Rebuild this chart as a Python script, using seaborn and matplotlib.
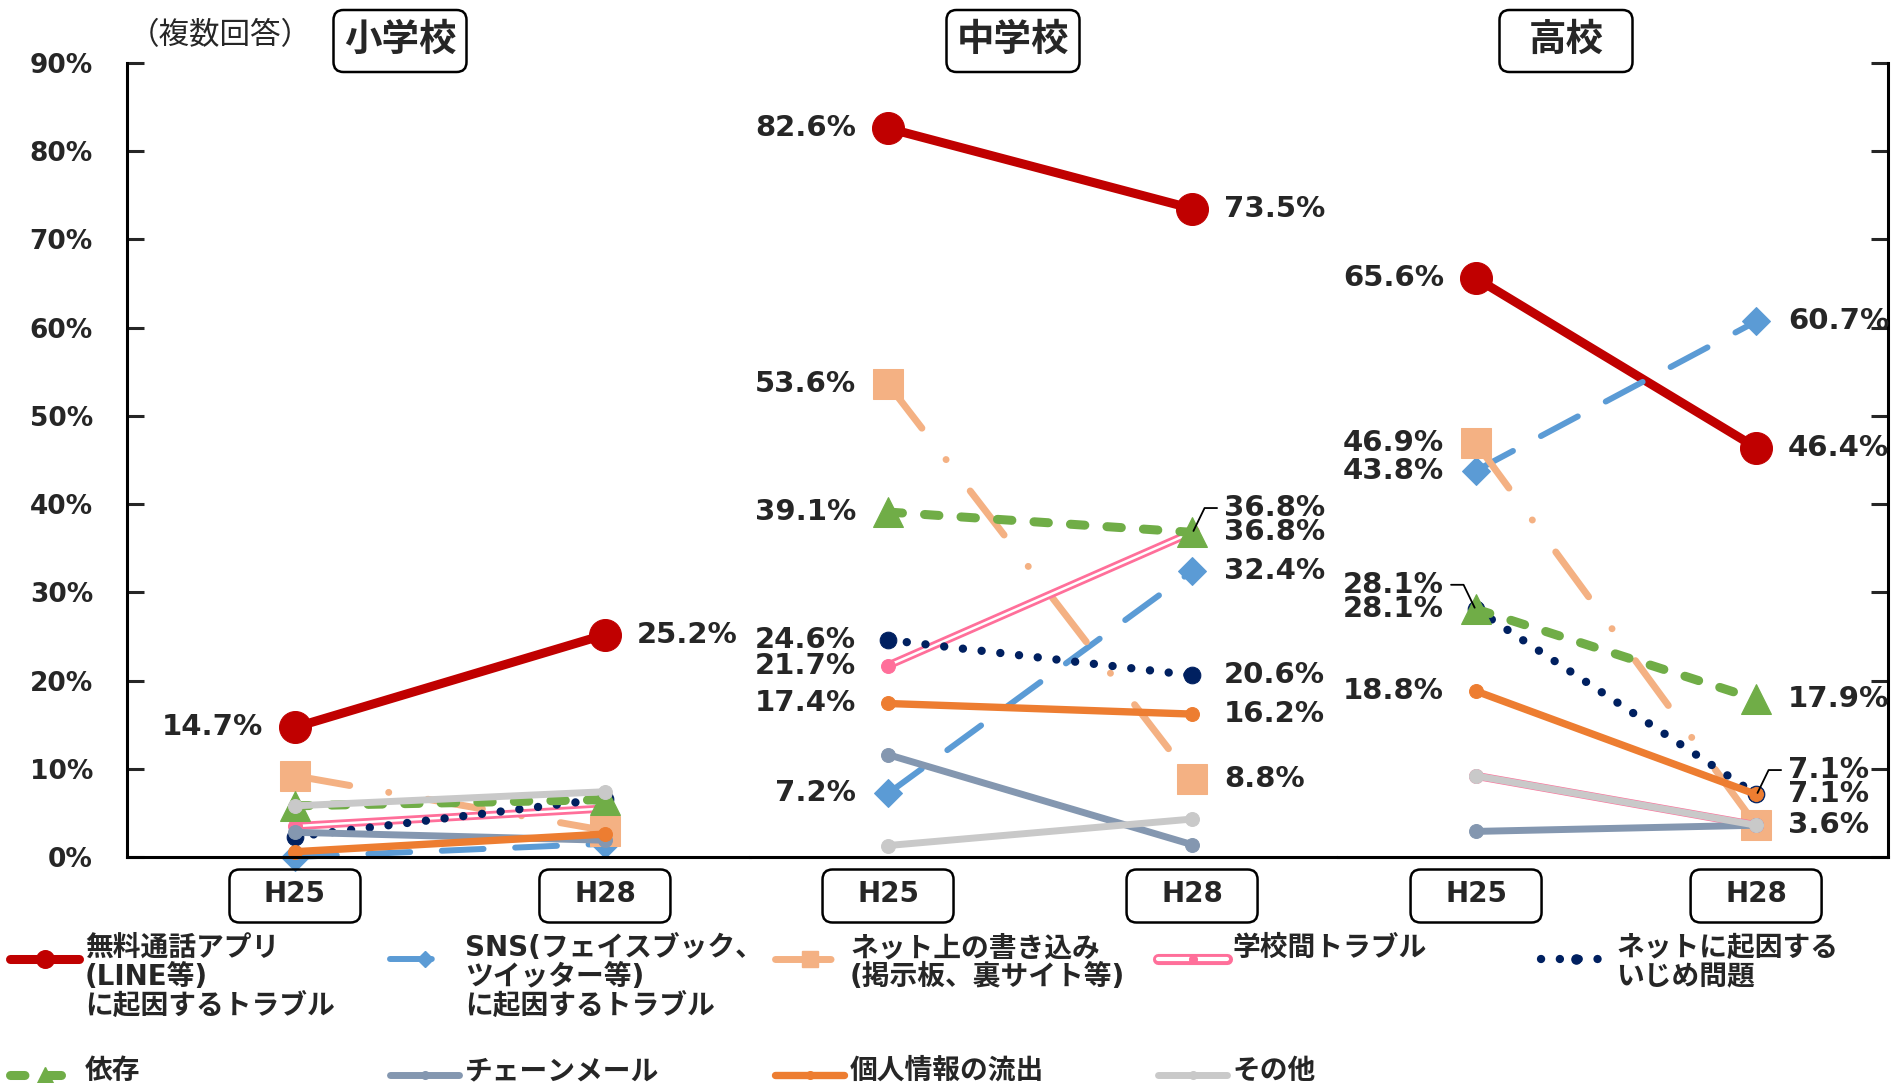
import matplotlib
matplotlib.use("Agg")
import matplotlib.pyplot as plt
import matplotlib.patheffects as pe
import matplotlib.transforms as mtransforms
from matplotlib.lines import Line2D
from matplotlib.patches import FancyBboxPatch
import pandas as pd
import seaborn as sns

# ---- data ----
schools = ["小学校", "中学校", "高校"]
years = ["H25", "H28"]
categories = [
    "無料通話アプリ\n(LINE等)\nに起因するトラブル",
    "SNS(フェイスブック、\nツイッター等)\nに起因するトラブル",
    "ネット上の書き込み\n(掲示板、裏サイト等)",
    "学校間トラブル",
    "ネットに起因する\nいじめ問題",
    "依存",
    "チェーンメール",
    "個人情報の流出",
    "その他",
]
elem_h25 = [14.7, 0.0, 9.2, 3.5, 2.3, 5.8, 2.8, 0.6, 5.8]
elem_h28 = [25.2, 1.5, 3.0, 5.5, 6.6, 6.5, 1.9, 2.6, 7.4]
mid_h25 = [82.6, 7.2, 53.6, 21.7, 24.6, 39.1, 11.6, 17.4, 1.3]
mid_h28 = [73.5, 32.4, 8.8, 36.8, 20.6, 36.8, 1.4, 16.2, 4.3]
high_h25 = [65.6, 43.8, 46.9, 9.2, 28.1, 28.1, 2.9, 18.8, 9.2]
high_h28 = [46.4, 60.7, 3.6, 3.6, 7.1, 17.9, 3.6, 7.1, 3.6]
y_ticks = list(range(0, 91, 10))

# (year index, category index) of the printed values
value_labels = {
    "小学校": [(0, 0), (1, 0)],
    "中学校": [(0, 0), (0, 2), (0, 5), (0, 4), (0, 3), (0, 7), (0, 1),
              (1, 0), (1, 5), (1, 1), (1, 4), (1, 7), (1, 2)],
    "高校": [(0, 0), (0, 2), (0, 1), (0, 5), (0, 7),
            (1, 1), (1, 0), (1, 5), (1, 7), (1, 2)],
}
# duplicated values: printed one line higher with a leader line
leader_labels = {"小学校": [], "中学校": [(1, 3)], "高校": [(0, 4), (1, 4)]}

rows = []
for school, h25, h28 in zip(schools, [elem_h25, mid_h25, high_h25],
                            [elem_h28, mid_h28, high_h28]):
    for cat, a, b in zip(categories, h25, h28):
        rows.append((school, cat, years[0], a))
        rows.append((school, cat, years[1], b))
df = pd.DataFrame(rows, columns=["school", "cat", "year", "value"])

# ---- styles ----
PINK = "#FF6F9A"
styles = [
    dict(color="#C00000", lw=6.5, ls="-", marker="o", ms=23),
    dict(color="#5B9BD5", lw=4.3, ls=(0, (7, 5.3)), marker="D", ms=14),
    dict(color="#F4B183", lw=5, ls=(0, (8, 5.7, 0.01, 5.7)), marker="s", ms=21),
    dict(color=PINK, lw=1.8, ls="-", marker="o", ms=10),
    dict(color="#002060", lw=6, ls=(0, (0.01, 2.25)), marker="o", ms=12),
    dict(color="#70AD47", lw=6.5, ls=(0, (1.6, 2.45)), marker="^", ms=22),
    dict(color="#8497B0", lw=5, ls="-", marker="o", ms=10),
    dict(color="#ED7D31", lw=5.3, ls="-", marker="o", ms=10),
    dict(color="#C9C9C9", lw=5, ls="-", marker="o", ms=10),
]

sns.set_style("white")
plt.rcParams["font.family"] = ["DejaVu Sans", "Noto Sans CJK JP"]

W, H = 1898, 1083
fig = plt.figure(figsize=(W / 100, H / 100), dpi=100)

panel_px = [(127, 750), (750, 1338), (1338, 1888)]
xlims = [(-0.542, 1.468), (-0.454, 1.48), (-0.493, 1.471)]
y_top, y_bot = 63, 857
title_px = [400, 1013, 1566]

axes = []
for (l, r) in panel_px:
    axes.append(fig.add_axes([l / W, 1 - y_bot / H, (r - l) / W, (y_bot - y_top) / H]))


def offset_trans(ax, x, y):
    return fig.dpi_scale_trans + mtransforms.ScaledTranslation(x, y, ax.transData)


for p, (ax, school) in enumerate(zip(axes, schools)):
    d = df[df.school == school]
    for k, cat in enumerate(categories):
        sub = d[d.cat == cat]
        st = styles[k]
        if k == 3:
            sns.lineplot(data=sub, x="year", y="value", ax=ax, color="white",
                         lw=1.8, legend=False, clip_on=False,
                         path_effects=[pe.Stroke(linewidth=5.8, foreground=PINK), pe.Normal()])
            sns.lineplot(data=sub, x="year", y="value", ax=ax, color=PINK,
                         linestyle="none", marker="o", ms=st["ms"], mec=PINK,
                         legend=False, clip_on=False)
        else:
            sns.lineplot(data=sub, x="year", y="value", ax=ax, color=st["color"],
                         lw=st["lw"], linestyle=st["ls"], marker=st["marker"],
                         ms=st["ms"], mec=st["color"], dash_capstyle="round",
                         solid_capstyle="round", legend=False, clip_on=False)

    vals = [d[d.year == y].set_index("cat").loc[categories, "value"].tolist() for y in years]
    for yi, k in value_labels[school]:
        side = -1 if yi == 0 else 1
        ax.annotate(f"{vals[yi][k]:.1f}%", xy=(yi, vals[yi][k]),
                    xytext=(23 * side, 0), textcoords="offset points",
                    ha="right" if side < 0 else "left", va="center",
                    fontsize=21, fontweight="bold")
    for yi, k in leader_labels[school]:
        side = -1 if yi == 0 else 1
        v = vals[yi][k]
        ax.annotate(f"{v:.1f}%", xy=(yi, v), xytext=(23 * side, 17.5),
                    textcoords="offset points",
                    ha="right" if side < 0 else "left", va="center",
                    fontsize=21, fontweight="bold")
        xs = [side * 18 / 72, side * 9 / 72, side * 1 / 72]
        ys = [17.5 / 72, 17.5 / 72, 1 / 72]
        ax.add_line(Line2D(xs, ys, transform=offset_trans(ax, yi, v),
                           color="black", lw=1.3, clip_on=False))

    ax.set_xlim(*xlims[p])
    ax.set_ylim(0, 90)
    ax.set_xlabel("")
    ax.set_ylabel("")
    ax.set_xticks(range(len(years)), years, fontsize=20, fontweight="bold")
    ax.tick_params(axis="x", length=0, pad=16.5)
    for s in ["top", "left", "right"]:
        ax.spines[s].set_visible(False)
    ax.spines["bottom"].set_linewidth(2.2)
    ax.spines["bottom"].set_color("black")
    ax.set_yticks(y_ticks)
    if p == 0:
        ax.spines["left"].set_visible(True)
        ax.spines["left"].set_linewidth(2.2)
        ax.spines["left"].set_color("black")
        ax.set_yticklabels([f"{t}%" for t in y_ticks], fontsize=19, fontweight="bold")
        ax.tick_params(axis="y", direction="in", length=12, width=2.2, pad=24.5,
                       left=True, right=False)
    elif p == 2:
        ax.spines["right"].set_visible(True)
        ax.spines["right"].set_linewidth(2.2)
        ax.spines["right"].set_color("black")
        ax.yaxis.set_ticks_position("right")
        ax.tick_params(axis="y", direction="in", length=12, width=2.2,
                       labelright=False, labelleft=False)
    else:
        ax.tick_params(axis="y", length=0, labelleft=False)

    # rounded boxes around the year labels
    for xi in range(len(years)):
        tr = fig.dpi_scale_trans + mtransforms.ScaledTranslation(xi, 0, ax.get_xaxis_transform())
        fig.add_artist(FancyBboxPatch((-0.655, -0.39 - 0.265), 1.31, 0.53,
                                      boxstyle="round,pad=0,rounding_size=0.1",
                                      transform=tr, fc="none", ec="black", lw=1.8))

    # panel titles
    tx, ty = title_px[p] / W, 1 - 41 / H
    fig.text(tx, ty, school, ha="center", va="center", fontsize=27, fontweight="bold")
    tr = fig.dpi_scale_trans + mtransforms.ScaledTranslation(tx, ty, fig.transFigure)
    fig.add_artist(FancyBboxPatch((-0.665, -0.31), 1.33, 0.62,
                                  boxstyle="round,pad=0,rounding_size=0.1",
                                  transform=tr, fc="none", ec="black", lw=1.8))

fig.text(220 / W, 1 - 36 / H, "（複数回答）", ha="center", va="center", fontsize=22)

# ---- legend drawn in figure pixels ----
leg_cols_px = [10, 390, 775, 1158, 1541]
leg_rows_px = [959, 1075]
leg_text_top = [934, 1057]
for k, cat in enumerate(categories):
    col, row = k % 5, k // 5
    x0, y0 = leg_cols_px[col], leg_rows_px[row]
    st = styles[k]
    fx = [x0 / W, (x0 + 69) / W]
    fy = [1 - y0 / H, 1 - y0 / H]
    if k == 3:
        fig.add_artist(Line2D(fx, fy, transform=fig.transFigure, color="white", lw=3,
                              path_effects=[pe.Stroke(linewidth=8, foreground=PINK), pe.Normal()]))
    else:
        fig.add_artist(Line2D(fx, fy, transform=fig.transFigure, color=st["color"],
                              lw=st["lw"], linestyle=st["ls"], dash_capstyle="round",
                              solid_capstyle="round"))
    fig.add_artist(Line2D([(x0 + 34.5) / W], fy[:1], transform=fig.transFigure,
                          color=st["color"], marker=st["marker"], ms=st["ms"] * 0.55,
                          mec=st["color"], linestyle="none"))
    fig.text((x0 + 75) / W, 1 - leg_text_top[row] / H, cat, ha="left", va="top",
             fontsize=20, fontweight="bold", linespacing=1.05)

fig.savefig("out.png", dpi=100)
